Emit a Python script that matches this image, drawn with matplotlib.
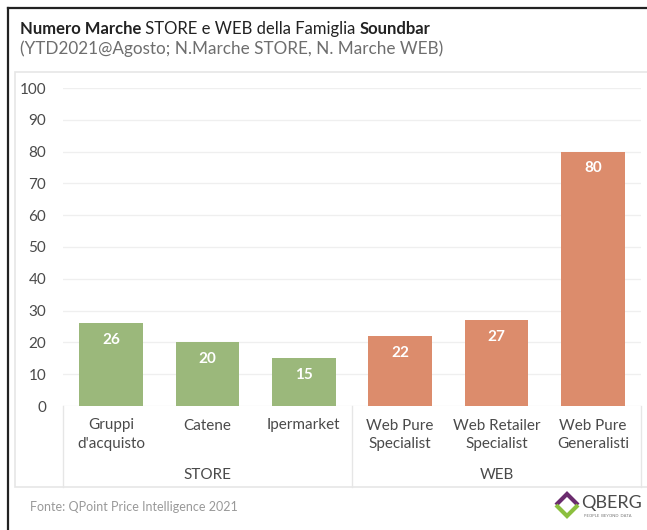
import matplotlib.pyplot as plt
from matplotlib.patches import Rectangle, Polygon
from matplotlib.transforms import blended_transform_factory

plt.rcParams['font.family'] = ['Lato', 'DejaVu Sans']

# data
categorie = ["Gruppi\nd'acquisto", "Catene", "Ipermarket",
             "Web Pure\nSpecialist", "Web Retailer\nSpecialist", "Web Pure\nGeneralisti"]
valori = [26, 20, 15, 22, 27, 80]
gruppi = ["STORE", "WEB"]
gruppo_di = [0, 0, 0, 1, 1, 1]
colori_gruppo = ["#9bb87b", "#dc8c6c"]

W, H = 647, 530
fig = plt.figure(figsize=(W / 100, H / 100), dpi=100)

def fx(px):
    return px / W

def fy(py):
    return 1 - py / H

# outer frame (top + left) and light panel
fig.add_artist(plt.Line2D([fx(8), 1], [fy(8), fy(8)], color="#222222", lw=1.6))
fig.add_artist(plt.Line2D([fx(8), fx(8)], [fy(8), 0], color="#222222", lw=1.6))
pannello = Rectangle((fx(15), fy(487)), fx(660) - fx(15), fy(72) - fy(487),
                     facecolor="#ffffff", edgecolor="#e6e6e6", lw=1.2, zorder=-5)
fig.add_artist(pannello)

ax = fig.add_axes([fx(63), fy(406), fx(641) - fx(63), fy(88) - fy(406)])
ax.set_zorder(2)
ax.set_facecolor("none")

x = list(range(len(valori)))
colori = [colori_gruppo[g] for g in gruppo_di]
bars = ax.bar(x, valori, width=0.66, color=colori, zorder=2)
for b, v in zip(bars, valori):
    ax.annotate(str(v), (b.get_x() + b.get_width() / 2, v), xytext=(0, -7),
                textcoords="offset points", ha="center", va="top",
                color="white", fontsize=11, fontweight="bold")

ax.set_xlim(-0.5, 5.5)
ax.set_ylim(0, 100)
ax.set_yticks(range(0, 101, 10))
ax.grid(axis="y", color="#efefef", lw=0.9, zorder=0)
ax.tick_params(axis="y", length=0, pad=12, labelsize=11, labelcolor="#4a4a4a")
ax.set_xticks(x)
ax.set_xticklabels(categorie, fontsize=11, color="#4a4a4a", linespacing=1.4)
ax.tick_params(axis="x", length=0, pad=9)
for s in ax.spines.values():
    s.set_visible(False)

# category separators and group labels
tr = blended_transform_factory(ax.transData, ax.transAxes)
for xs in [-0.5, 2.5, 5.5]:
    ax.plot([xs, xs], [0, -0.255], transform=tr, color="#e6e6e6", lw=1, clip_on=False)
for i, g in enumerate(gruppi):
    idx = [k for k in x if gruppo_di[k] == i]
    ax.text(sum(idx) / len(idx), -0.216, g, transform=tr, ha="center", va="center",
            fontsize=11, color="#4a4a4a")

# title with mixed weights
fig.canvas.draw()
r = fig.canvas.get_renderer()
parti = [("Numero Marche", "bold"), (" STORE e WEB della Famiglia ", "normal"), ("Soundbar", "bold")]
xp = fx(20)
for testo, peso in parti:
    t = fig.text(xp, fy(29), testo, fontsize=12, fontweight=peso, color="#222222", va="center")
    bb = t.get_window_extent(renderer=r)
    xp += bb.width / W
fig.text(fx(20), fy(49), "(YTD2021@Agosto; N.Marche STORE, N. Marche WEB)",
         fontsize=12.3, color="#6e6e6e", va="center")

fig.text(fx(30), fy(507), "Fonte: QPoint Price Intelligence 2021", fontsize=9,
         color="#999999", va="center")

# logo
cx, cy, d = 567, 505, 11
fig.add_artist(Polygon([(fx(cx - d), fy(cy)), (fx(cx), fy(cy - d)), (fx(cx + d), fy(cy))],
                       closed=False, fill=False, edgecolor="#6b2c6e", lw=3))
fig.add_artist(Polygon([(fx(cx - d), fy(cy)), (fx(cx), fy(cy + d)), (fx(cx + d), fy(cy))],
                       closed=False, fill=False, edgecolor="#8cbf3f", lw=3))
fig.text(fx(581), fy(503), "QBERG", fontsize=13, color="#4a4a4a", va="center")
fig.text(fx(584), fy(516), "PEOPLE  BEYOND  DATA", fontsize=3, color="#777777", va="center")

fig.savefig("out.png", dpi=100)
